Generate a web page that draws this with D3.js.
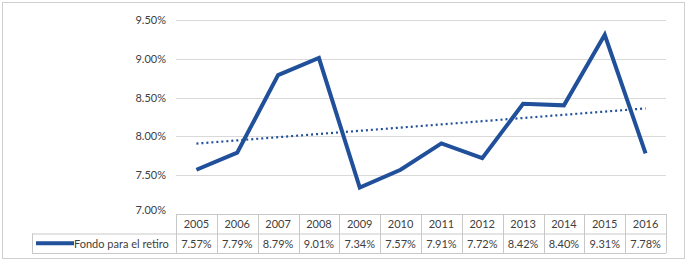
<!DOCTYPE html>
<html lang="es">
<head>
<meta charset="utf-8">
<title>Fondo para el retiro</title>
<script src="https://cdn.jsdelivr.net/npm/d3@7"></script>
<style>
  body { margin: 0; background: #fff; }
  svg text { font-family: Lato, "Open Sans", sans-serif; fill: #404040; }
</style>
</head>
<body>
<div id="chart"></div>
<script>
// datos
var years = ["2005", "2006", "2007", "2008", "2009", "2010", "2011", "2012", "2013", "2014", "2015", "2016"];
var fondo = [7.57, 7.79, 8.79, 9.01, 7.34, 7.57, 7.91, 7.72, 8.42, 8.40, 9.31, 7.78];
var yTicks = [7.0, 7.5, 8.0, 8.5, 9.0, 9.5];
var serieName = "Fondo para el retiro";

var w = 688, h = 263;
var plotL = 176, plotR = 666, plotT = 20, plotB = 214;
var rowH = 19.5;
var blue = "#21509a";

var svg = d3.select("#chart").append("svg")
    .attr("width", w)
    .attr("height", h);

// marco exterior
svg.append("rect")
    .attr("x", 2.5).attr("y", 2.5)
    .attr("width", 682).attr("height", 256)
    .attr("fill", "none")
    .attr("stroke", "#d0d0d0");

// escalas
var x = d3.scaleBand().domain(years).range([plotL, plotR]);
var y = d3.scaleLinear().domain([7.0, 9.5]).range([plotB, plotT]);

// lineas de cuadricula
svg.selectAll("line.grid")
    .data(yTicks.slice(1))
    .enter().append("line")
    .attr("class", "grid")
    .attr("x1", plotL).attr("x2", plotR)
    .attr("y1", function(d){ return Math.round(y(d)) + 0.5; })
    .attr("y2", function(d){ return Math.round(y(d)) + 0.5; })
    .attr("stroke", "#d9d9d9");

// eje y
svg.selectAll("text.ytick")
    .data(yTicks)
    .enter().append("text")
    .attr("class", "ytick")
    .attr("x", 166)
    .attr("y", function(d){ return y(d) + (d === 7.0 ? 0 : 4); })
    .attr("text-anchor", "end")
    .attr("font-size", "11px")
    .text(function(d){ return d.toFixed(2) + "%"; });

// linea de tendencia (regresion lineal)
var n = fondo.length;
var mx = d3.mean(d3.range(n)), my = d3.mean(fondo);
var sxy = d3.sum(fondo, function(d, i){ return (i - mx) * (d - my); });
var sxx = d3.sum(d3.range(n), function(i){ return (i - mx) * (i - mx); });
var slope = sxy / sxx, b0 = my - slope * mx;

svg.append("line")
    .attr("x1", x(years[0]) + x.bandwidth() / 2)
    .attr("y1", y(b0))
    .attr("x2", x(years[n - 1]) + x.bandwidth() / 2)
    .attr("y2", y(b0 + slope * (n - 1)))
    .attr("stroke", blue)
    .attr("stroke-width", 2.2)
    .attr("stroke-dasharray", "2,3");

// serie
var line = d3.line()
    .x(function(d, i){ return x(years[i]) + x.bandwidth() / 2; })
    .y(function(d){ return y(d); });

svg.append("path")
    .datum(fondo)
    .attr("d", line)
    .attr("fill", "none")
    .attr("stroke", blue)
    .attr("stroke-width", 4)
    .attr("stroke-linejoin", "miter");

// tabla de datos
var tbl = svg.append("g").attr("stroke", "#c8c8c8").attr("fill", "none");
// bordes horizontales
tbl.append("line").attr("x1", plotL).attr("x2", plotR).attr("y1", plotB + 0.5).attr("y2", plotB + 0.5);
tbl.append("line").attr("x1", 32).attr("x2", plotR).attr("y1", plotB + rowH + 0.5).attr("y2", plotB + rowH + 0.5);
tbl.append("line").attr("x1", 32).attr("x2", plotR).attr("y1", plotB + 2 * rowH + 0.5).attr("y2", plotB + 2 * rowH + 0.5);
// bordes verticales
tbl.append("line").attr("x1", 32.5).attr("x2", 32.5).attr("y1", plotB + rowH).attr("y2", plotB + 2 * rowH);
tbl.selectAll("line.col")
    .data(years.concat(["end"]))
    .enter().append("line")
    .attr("class", "col")
    .attr("x1", function(d, i){ return Math.round(plotL + i * x.step()) + 0.5; })
    .attr("x2", function(d, i){ return Math.round(plotL + i * x.step()) + 0.5; })
    .attr("y1", plotB)
    .attr("y2", plotB + 2 * rowH);

svg.selectAll("text.year")
    .data(years)
    .enter().append("text")
    .attr("class", "year")
    .attr("x", function(d){ return x(d) + x.bandwidth() / 2; })
    .attr("y", plotB + 14)
    .attr("text-anchor", "middle")
    .attr("font-size", "11px")
    .text(function(d){ return d; });

svg.selectAll("text.val")
    .data(fondo)
    .enter().append("text")
    .attr("class", "val")
    .attr("x", function(d, i){ return x(years[i]) + x.bandwidth() / 2; })
    .attr("y", plotB + rowH + 14)
    .attr("text-anchor", "middle")
    .attr("font-size", "11px")
    .text(function(d){ return d.toFixed(2) + "%"; });

// leyenda
svg.append("line")
    .attr("x1", 36).attr("x2", 74)
    .attr("y1", plotB + rowH * 1.5).attr("y2", plotB + rowH * 1.5)
    .attr("stroke", blue)
    .attr("stroke-width", 4);
svg.append("text")
    .attr("x", 74)
    .attr("y", plotB + rowH + 14)
    .attr("font-size", "11px")
    .text(serieName);
</script>
</body>
</html>
